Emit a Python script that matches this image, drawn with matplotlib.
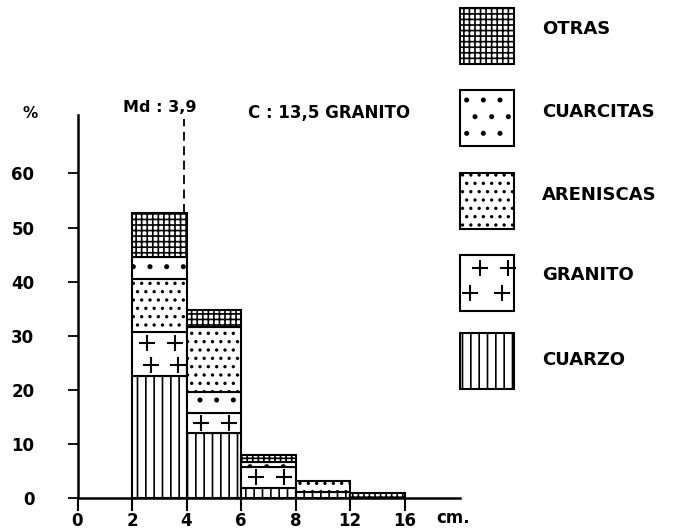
import matplotlib.pyplot as plt
from matplotlib.patches import Rectangle
import numpy as np

# class edges (cm) drawn at equal spacing on the x axis
edge_cm = [0, 2, 4, 6, 8, 12, 16]
edge_labels = ['0', '2', '4', '6', '8', '12', '16']
bin_names = ['2-4', '4-6', '6-8', '8-12', '12-16']

# % of each lithology per size class
cuarzo = [22.6, 12.0, 1.8, 1.1, 0.0]
granito = [8.1, 3.7, 4.0, 0.0, 0.0]
areniscas = [9.8, 12.1, 0.0, 2.0, 0.0]
cuarcitas = [4.0, 3.9, 0.9, 0.0, 0.0]
otras = [8.2, 3.1, 1.3, 0.0, 0.9]

# the original stacks the classes in a different order in some bars
stack_order = [
    ['cuarzo', 'granito', 'areniscas', 'cuarcitas', 'otras'],
    ['cuarzo', 'granito', 'cuarcitas', 'areniscas', 'otras'],
    ['cuarzo', 'granito', 'cuarcitas', 'otras'],
    ['cuarzo', 'areniscas'],
    ['otras'],
]
median_cm = 3.9
median_label = 'Md : 3,9'
centile_label = 'C : 13,5 GRANITO'

legend_names = ['OTRAS', 'CUARCITAS', 'ARENISCAS', 'GRANITO', 'CUARZO']
legend_keys = ['otras', 'cuarcitas', 'areniscas', 'granito', 'cuarzo']

values = {'cuarzo': cuarzo, 'granito': granito, 'areniscas': areniscas,
          'cuarcitas': cuarcitas, 'otras': otras}
hatches = {'cuarzo': '||', 'granito': '', 'areniscas': '..',
           'cuarcitas': '.', 'otras': '+++'}

plt.rcParams['font.family'] = ['DejaVu Sans']
plt.rcParams['font.weight'] = 'bold'
plt.rcParams['hatch.linewidth'] = 1.2
plt.rcParams['hatch.color'] = 'black'

W, H = 684, 532
fig = plt.figure(figsize=(W / 100, H / 100), dpi=100)
ax = fig.add_axes([77.5 / W, (H - 498) / H, (460 - 77.5) / W, (498 - 115) / H])


def add_crosses(axis, x0, x1, y0, y1, ms=11):
    rows = 2 if (y1 - y0) > 6 else 1
    for r in range(rows):
        yc = y0 + (y1 - y0) * (r + 0.5) / rows
        shift = 0.07 if (rows == 2 and r == 0) else 0.0
        xs = [x0 + (x1 - x0) * (0.27 + shift), x0 + (x1 - x0) * (0.78 + shift)]
        axis.plot(xs, [yc, yc], '+', color='black', ms=ms, mew=1.5, zorder=4)


# bin i spans the gap between edge i+1 and edge i+2
for i, order in enumerate(stack_order):
    left = i + 1
    bottom = 0.0
    for key in order:
        v = values[key][i]
        if v <= 0:
            continue
        ax.bar(left + 0.5, v, width=1.0, bottom=bottom, facecolor='white',
               edgecolor='black', linewidth=1.5, hatch=hatches[key], zorder=3)
        if key == 'granito':
            add_crosses(ax, left, left + 1, bottom, bottom + v)
        bottom += v

# median line, from the top of the 2-4 bar upwards
md_pos = np.interp(median_cm, edge_cm, np.arange(len(edge_cm)))
md_top = sum(values[k][0] for k in stack_order[0])
ax.plot([md_pos, md_pos], [md_top, 70.0], color='black', lw=1.3,
        dashes=(5, 3), zorder=2)

ax.set_xlim(0, (460 - 77.5) / 54.5)
ax.set_ylim(0, (498 - 115) / 5.41)
for s in ['top', 'right']:
    ax.spines[s].set_visible(False)
for s in ['left', 'bottom']:
    ax.spines[s].set_linewidth(1.8)

ax.set_xticks(np.arange(len(edge_labels)))
ax.set_xticklabels(edge_labels, fontsize=12, fontweight='bold')
ax.set_yticks(np.arange(0, 61, 10))
ax.set_yticklabels([str(v) for v in range(0, 61, 10)], fontsize=12, fontweight='bold')
ax.tick_params(axis='x', direction='out', length=9, width=1.5, pad=1)
ax.tick_params(axis='y', direction='out', length=7, width=1.3, pad=24)
ax.patch.set_visible(False)

fig.text(453 / W, 1 - 518 / H, 'cm.', ha='center', va='center',
         fontsize=12, fontweight='bold')
fig.text(30 / W, 1 - 113 / H, '%', ha='center', va='center',
         fontsize=11, fontweight='bold')
fig.text(160 / W, 1 - 107 / H, median_label, ha='center', va='center',
         fontsize=11.5, fontweight='bold')
fig.text(329 / W, 1 - 113 / H, centile_label, ha='center', va='center',
         fontsize=12, fontweight='bold')

# legend drawn in pixel coordinates
lg = fig.add_axes([0, 0, 1, 1])
lg.set_xlim(0, W)
lg.set_ylim(H, 0)
lg.axis('off')
box_tops = [8, 90, 173, 255, 333]
text_y = [29, 112, 195, 275, 360]
for key, name, top, ty in zip(legend_keys, legend_names, box_tops, text_y):
    lg.add_patch(Rectangle((460, top), 54, 56, facecolor='white',
                           edgecolor='black', linewidth=1.5, hatch=hatches[key]))
    if key == 'granito':
        lg.plot([480, 508], [top + 13, top + 13], '+', color='black', ms=11, mew=1.5)
        lg.plot([470, 502], [top + 38, top + 38], '+', color='black', ms=11, mew=1.5)
    lg.text(542, ty, name, ha='left', va='center', fontsize=13, fontweight='bold')

fig.savefig('out.png', dpi=100, facecolor='white')
